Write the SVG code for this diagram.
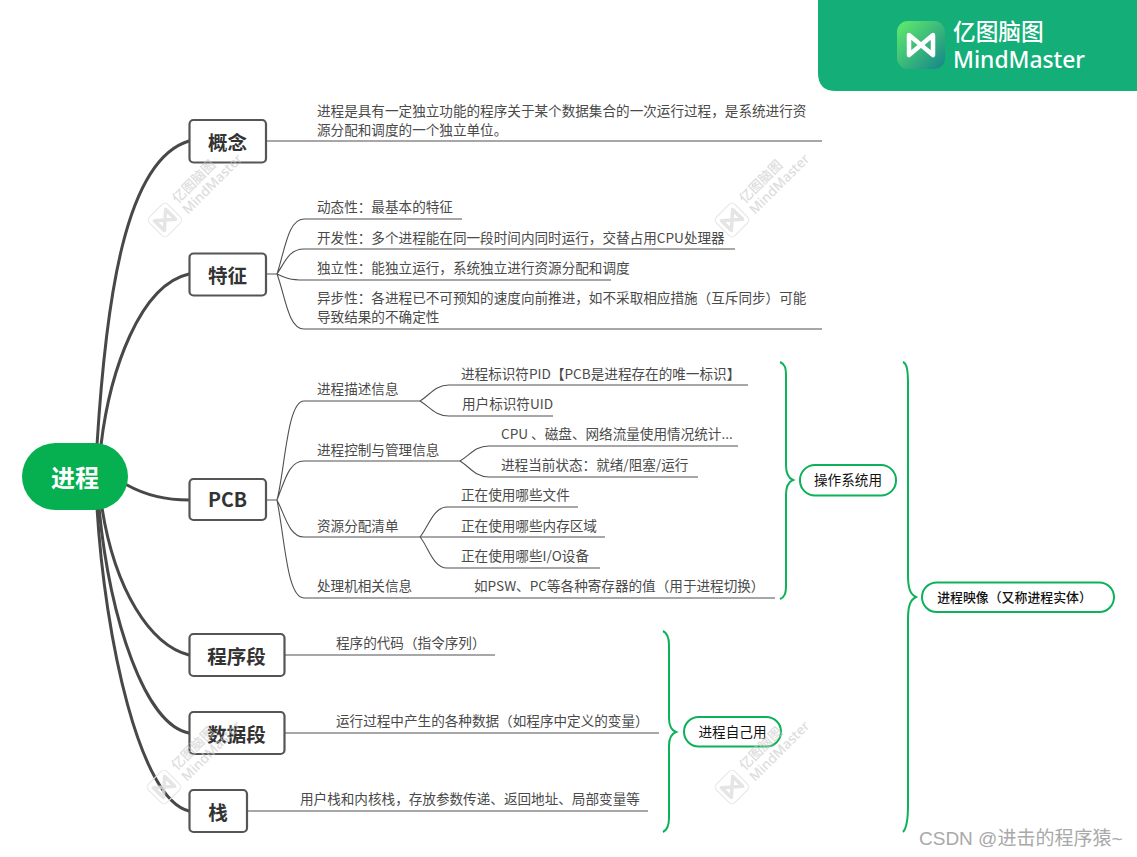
<svg xmlns="http://www.w3.org/2000/svg" width="1137" height="857" viewBox="0 0 1137 857">
<style>
text{font-family:"Noto Sans CJK SC","Noto Sans",sans-serif}
.n{fill:#fff;stroke:#555;stroke-width:2.2}
.nt{font-size:19.500px;font-weight:700;fill:#333;text-anchor:middle}
.t{font-size:13.6px;fill:#4a4a4a}
.main{fill:none;stroke:#484848;stroke-width:3;stroke-linecap:round}
.thin{fill:none;stroke:#505050;stroke-width:1.1}
.brace{fill:none;stroke:#0db15a;stroke-width:2}
.b{fill:#fff;stroke:#0db15a;stroke-width:2}
.bt{font-size:13.6px;fill:#111;text-anchor:middle}
.wmi{fill:none;stroke:#e6e6e6;stroke-width:1}
.wmn{fill:none;stroke:#dfdfdf;stroke-width:3.5;stroke-linejoin:round;opacity:.8}
.wmt{font-size:13.500px;font-weight:500;fill:#c8c8c8;opacity:.6}
.wml{font-size:13.500px;font-weight:500;fill:#c8c8c8;opacity:.6;font-family:"Noto Sans",sans-serif}
</style>
<defs>
<linearGradient id="lg" x1="0" y1="0" x2="1" y2="1"><stop offset="0" stop-color="#62ed6c"/><stop offset="1" stop-color="#14858a"/></linearGradient>
<g id="wm">
<rect x="-13" y="-13" width="26" height="26" rx="4" class="wmi" transform="rotate(-45)"/>
<path d="M-8 -7 L8 7 V-7 L-8 7Z" class="wmn" transform="rotate(-45)"/>
<text x="13" y="-16" class="wmt" transform="rotate(-45 13 -16)">亿图脑图</text>
<text x="23" y="-5" class="wml" transform="rotate(-45 23 -5)">MindMaster</text>
</g>
</defs>
<rect width="1137" height="857" fill="#fff"/>
<g id="header">
<path d="M818 0H1137V91H836Q818 91 818 73Z" fill="#14ae79"/>
<rect x="897" y="21" width="48" height="48" rx="11" fill="url(#lg)"/>
<path d="M909 35L933 55V35L909 55Z" fill="none" stroke="#fff" stroke-width="4.500" stroke-linejoin="round"/>
<text x="953" y="40" font-size="22.7" font-weight="500" fill="#fff">亿图脑图</text>
<text x="953" y="67.500" fill="#fff" style="font-family:'Noto Sans',sans-serif;font-size:22.800px;font-weight:500">MindMaster</text>
</g>
<g id="connectors">
<path class="main" d="M97 445C106 300 125 160 189 141"/>
<path class="main" d="M101 445C110 370 140 285 189 274"/>
<path class="main" d="M127 485C145 495 165 500 189 500"/>
<path class="main" d="M102 508C115 590 150 645 189 655"/>
<path class="main" d="M99 508C110 620 145 725 189 733"/>
<path class="main" d="M97 508C105 640 140 800 189 811"/>
<path class="thin" d="M266 141H822"/>
<path class="thin" d="M266 274H277M277 274C285 250 288 219 304 219H462M277 274C285 262 289 249 304 249H735M277 274C285 278 290 280 304 280H611M277 274C285 295 288 329 304 329H822"/>
<path class="thin" d="M266 500H277M277 500C285 470 287 401 304 401H420M277 500C285 480 289 461 304 461H460M277 500C285 515 289 537 304 537H420M277 500C285 540 287 598 304 598H775"/>
<path class="thin" d="M420 401C430 395 435 385 449 385H748M420 401C430 407 435 416 449 416H553"/>
<path class="thin" d="M460 461C470 455 475 446 489 446H738M460 461C470 467 475 477 489 477H698"/>
<path class="thin" d="M420 537C428 528 433 507 447 507H578M420 537H605M420 537C428 546 433 568 447 568H600"/>
<path class="thin" d="M285 655H495M285 733H659M247 811H648"/>
<path class="brace" d="M780 362C785 364 786 368 786 376V465C786 474 788 478 793 480C788 482 786 486 786 495V585C786 593 785 597 780 599"/>
<path class="brace" d="M903 362C907 364 908 370 908 385V575C908 588 910 594 916 597C910 600 908 606 908 620V805C908 820 907 828 903 832"/>
<path class="brace" d="M663 631C667 633 669 637 669 645V718C669 726 671 730 676 732C671 734 669 738 669 746V818C669 826 667 830 663 832"/>
</g>
<g id="root"><rect x="22" y="443" width="106" height="67" rx="33.5" fill="#06b050"/><text x="75" y="487" font-size="24" font-weight="700" fill="#fff" text-anchor="middle">进程</text></g>
<g id="n1"><rect class="n" x="189.5" y="120" width="76.5" height="42.5" rx="4"/><text class="nt" x="227.500" y="150">概念</text></g>
<g id="n2"><rect class="n" x="189.5" y="253.500" width="76.5" height="42" rx="4"/><text class="nt" x="227.500" y="283">特征</text></g>
<g id="n3"><rect class="n" x="189.5" y="479" width="76.5" height="41" rx="4"/><text class="nt" x="227.500" y="507">PCB</text></g>
<g id="n4"><rect class="n" x="189.5" y="634" width="95" height="42" rx="4"/><text class="nt" x="236.500" y="664">程序段</text></g>
<g id="n5"><rect class="n" x="189.5" y="712" width="95" height="42" rx="4"/><text class="nt" x="236.500" y="742">数据段</text></g>
<g id="n6"><rect class="n" x="189.5" y="790" width="57.500" height="42" rx="4"/><text class="nt" x="218" y="820">栈</text></g>
<g id="labels">
<text class="t" x="317" y="116">进程是具有一定独立功能的程序关于某个数据集合的一次运行过程&#xFF0C;是系统进行资</text>
<text class="t" x="317" y="135">源分配和调度的一个独立单位。</text>
<text class="t" x="317" y="212">动态性&#xFF1A;最基本的特征</text>
<text class="t" x="317" y="243">开发性&#xFF1A;多个进程能在同一段时间内同时运行&#xFF0C;交替占用CPU处理器</text>
<text class="t" x="317" y="273">独立性&#xFF1A;能独立运行&#xFF0C;系统独立进行资源分配和调度</text>
<text class="t" x="317" y="303">异步性&#xFF1A;各进程已不可预知的速度向前推进&#xFF0C;如不采取相应措施&#xFF08;互斥同步&#xFF09;可能</text>
<text class="t" x="317" y="322">导致结果的不确定性</text>
<text class="t" x="317" y="394">进程描述信息</text>
<text class="t" x="317" y="455">进程控制与管理信息</text>
<text class="t" x="317" y="531">资源分配清单</text>
<text class="t" x="317" y="591">处理机相关信息</text>
<text class="t" x="461" y="379">进程标识符PID【PCB是进程存在的唯一标识】</text>
<text class="t" x="462" y="409">用户标识符UID</text>
<text class="t" x="501" y="439">CPU 、磁盘、网络流量使用情况统计...</text>
<text class="t" x="501" y="470">进程当前状态&#xFF1A;就绪/阻塞/运行</text>
<text class="t" x="461" y="500">正在使用哪些文件</text>
<text class="t" x="461" y="531">正在使用哪些内存区域</text>
<text class="t" x="461" y="561">正在使用哪些I/O设备</text>
<text class="t" x="474" y="591">如PSW、PC等各种寄存器的值&#xFF08;用于进程切换&#xFF09;</text>
<text class="t" x="336" y="648">程序的代码&#xFF08;指令序列&#xFF09;</text>
<text class="t" x="336" y="726">运行过程中产生的各种数据&#xFF08;如程序中定义的变量&#xFF09;</text>
<text class="t" x="300" y="804">用户栈和内核栈&#xFF0C;存放参数传递、返回地址、局部变量等</text>
</g>
<g id="b1"><rect class="b" x="800" y="465" width="96" height="30.5" rx="15"/><text class="bt" x="848" y="485">操作系统用</text></g>
<g id="b2"><rect class="b" x="922" y="582.500" width="192" height="29.5" rx="14.700"/><text class="bt" x="1014.500" y="602" style="font-size:12.900px;font-weight:500">进程映像&#xFF08;又称进程实体&#xFF09;</text></g>
<g id="b3"><rect class="b" x="684" y="717" width="97" height="29.5" rx="14.700"/><text class="bt" x="732.500" y="737">进程自己用</text></g>
<g id="watermarks">
<use href="#wm" x="165" y="220"/>
<use href="#wm" x="732" y="220"/>
<use href="#wm" x="164" y="787"/>
<use href="#wm" x="732" y="787"/>
</g>
<text x="919" y="845" fill="#a9a9a9" style="font-family:'Liberation Sans','Noto Sans CJK SC',sans-serif;font-size:19px">CSDN @进击的程序猿~</text>
</svg>
